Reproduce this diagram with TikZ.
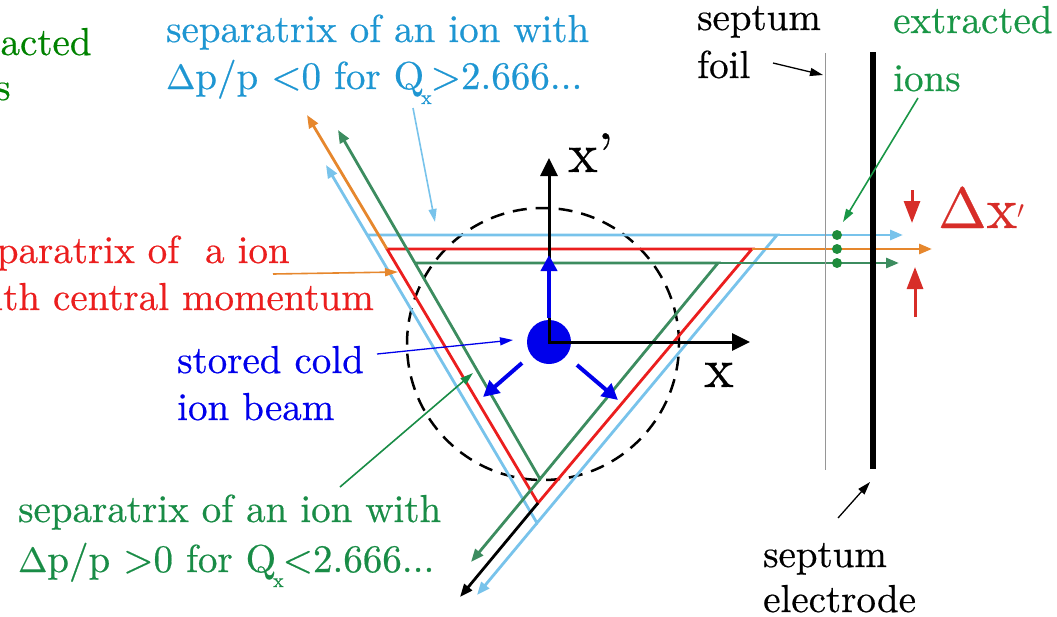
\documentclass[tikz,border=0pt]{standalone}
\usepackage{fontspec}
\setmainfont{lmroman10-regular.otf}[FakeBold=0.5]
\usetikzlibrary{arrows.meta}
\definecolor{lbline}{RGB}{120,195,235}
\definecolor{lbtext}{RGB}{30,150,210}
\definecolor{sepred}{RGB}{235,30,30}
\definecolor{dxred}{RGB}{215,45,40}
\definecolor{sorange}{RGB}{230,135,45}
\definecolor{sgreen}{RGB}{60,140,95}
\definecolor{gtext}{RGB}{25,140,70}
\definecolor{gtextb}{RGB}{25,150,70}
\definecolor{gpure}{RGB}{0,130,0}
\definecolor{sblue}{RGB}{0,0,235}
\definecolor{dotgreen}{RGB}{30,140,60}
\definecolor{foilgray}{RGB}{150,150,150}
\newcommand{\qsubx}{Q\kern-3pt\raisebox{-15pt}{\fontsize{20}{20}\selectfont x}\kern-1pt}
\newcommand{\dlt}{{\fontsize{35}{35}\selectfont Δ}}
\begin{document}
\begin{tikzpicture}[x=1pt,y=-1pt,
  lbl/.style={inner sep=0pt, anchor=base west, font=\fontsize{39}{46}\selectfont},
  axlbl/.style={inner sep=0pt, anchor=base west, font=\fontsize{56}{56}\selectfont},
  sepline/.style={line width=2.8pt, line join=miter},
  armtip/.style={-{Triangle[length=13pt,width=10pt]}},
  armtipstart/.style={{Triangle[length=13pt,width=10pt]}-},
  pointer/.style={line width=1.6pt, -{Triangle[length=13pt,width=8pt]}},
  bluearrow/.style={sblue, line width=4pt, -{Triangle[length=16pt,width=16pt]}},
  dxarrow/.style={dxred, line width=3pt, -{Triangle[length=22pt,width=16pt]}}
]
\useasboundingbox (0,0) rectangle (1057,616);
\clip (0,0) rectangle (1057,616);

% ---------- coordinates ----------
\coordinate (O) at (549,342);
\coordinate (Cc) at (543,344);
% light blue separatrix
\coordinate (L1) at (367,235);
\coordinate (R1) at (777,235);
\coordinate (B1) at (537,523);
\coordinate (LBtop) at (903,235);
\coordinate (LBup) at (326,165);
\coordinate (LBdown) at (477,595);
% red separatrix
\coordinate (L2) at (387,249);
\coordinate (R2) at (752,249);
\coordinate (B2) at (538,503);
\coordinate (ORup) at (307,115);
\coordinate (ORright) at (932,249);
\coordinate (BKdown) at (460,597);
% green separatrix
\coordinate (L3) at (414,263);
\coordinate (R3) at (718,263);
\coordinate (B3) at (540,479);
\coordinate (GRright) at (899,263);
\coordinate (GRup) at (338,130);
\coordinate (GRdown) at (471,562);

% ---------- dashed circle ----------
\draw[line width=2.5pt, dash pattern=on 14pt off 9pt] (Cc) circle (136pt);

% ---------- separatrices ----------
\draw[sepline, lbline, armtipstart] (LBup) -- (B1) -- (R1) -- (L1);
\draw[sepline, lbline, armtip] (R1) -- (LBtop);
\draw[sepline, lbline, armtip] (B1) -- (LBdown);

\draw[sepline, sepred] (L2) -- (R2) -- (B2) -- cycle;
\draw[sepline, sorange, armtip] (L2) -- (ORup);
\draw[sepline, sorange, armtip] (R2) -- (ORright);
\draw[sepline, black, armtip] (B2) -- (BKdown);

\draw[sepline, sgreen, armtipstart] (GRup) -- (B3) -- (R3) -- (L3);
\draw[sepline, sgreen, armtip] (R3) -- (GRright);
\draw[sepline, sgreen, armtip] (B3) -- (GRdown);

% ---------- beam and axes ----------
\fill[sblue] (O) circle (22pt);
\coordinate (Xtip) at (750,342);
\coordinate (XPtip) at (549,158);
\draw[line width=3pt, line join=miter, {Triangle[length=18pt,width=17pt]}-{Triangle[length=18pt,width=17pt]}] (XPtip) -- (O) -- (Xtip);
\coordinate (BUs) at (549,318);
\coordinate (BUe) at (549,255);
\coordinate (BLs) at (522,363);
\coordinate (BLe) at (483,397);
\coordinate (BRs) at (577,365);
\coordinate (BRe) at (618,400);
\draw[bluearrow] (BUs) -- (BUe);
\draw[bluearrow] (BLs) -- (BLe);
\draw[bluearrow] (BRs) -- (BRe);
\node[axlbl] (xplabel) at (568,172) {x’};
\node[axlbl] (xlabel) at (704,387) {x};

% ---------- septum ----------
\coordinate (FoilT) at (825,53);
\coordinate (FoilB) at (825,470);
\coordinate (ElT) at (873,52);
\coordinate (ElB) at (873,469);
\draw[foilgray, line width=1pt] (FoilT) -- (FoilB);
\draw[black, line width=6pt] (ElT) -- (ElB);
\fill[dotgreen] (837,235) circle (5pt) (837,249) circle (5pt) (837,263) circle (5pt);

% ---------- delta x' ----------
\coordinate (DDs) at (912,190);
\coordinate (DDe) at (912,223);
\coordinate (DUs) at (915,317);
\coordinate (DUe) at (915,267);
\draw[dxarrow] (DDs) -- (DDe);
\draw[dxarrow] (DUs) -- (DUe);
\node[inner sep=0pt, anchor=base west, font=\fontsize{58}{58}\selectfont, text=dxred] (dxlabel) at (938,228) {Δx$'$};

% ---------- labels ----------
\node[lbl, text=gpure] (tlA) at (-68,55) {extracted};
\node[lbl, text=gpure] (tlB) at (-57,100) {ions};

\node[lbl, text=lbtext] (topA) at (166,42) {separatrix of an ion with};
\node[lbl, text=lbtext] (topB) at (166,89) {\dlt p/p <0 for \qsubx>2.666...};

\node[lbl] (septA) at (697,30) {septum};
\node[lbl] (septB) at (697,78) {foil};

\node[lbl, text=gtextb] (extA) at (893,33) {extracted};
\node[lbl, text=gtextb] (extB) at (893,91) {ions};

\node[lbl, text=sepred] (redA) at (-36,263) {separatrix of~ a ion};
\node[lbl, text=sepred] (redB) at (-36,310) {with central momentum};

\node[lbl, text=sblue] (blueA) at (177,373) {stored cold};
\node[lbl, text=sblue] (blueB) at (177,420) {ion beam};

\node[lbl, text=gtext] (botA) at (18,522) {separatrix of an ion with};
\node[lbl, text=gtext] (botB) at (18,572) {\dlt p/p >0 for \qsubx<2.666...};

\node[lbl] (eleA) at (763,567) {septum};
\node[lbl] (eleB) at (763,612) {electrode};

% ---------- pointers ----------
\coordinate (PtopS) at (413,108);
\coordinate (PtopE) at (435,222);
\draw[pointer, lbline] (PtopS) -- (PtopE);
\coordinate (PfoilS) at (773,63);
\coordinate (PfoilE) at (823,75);
\draw[pointer, black, line width=1.3pt] (PfoilS) -- (PfoilE);
\coordinate (PextS) at (918,98);
\coordinate (PextE) at (843,222);
\draw[pointer, gtextb] (PextS) -- (PextE);
\coordinate (PredS) at (273,274);
\coordinate (PredE) at (398,272);
\draw[pointer, sorange] (PredS) -- (PredE);
\coordinate (PblueS) at (377,354);
\coordinate (PblueE) at (513,340);
\draw[pointer, sblue, line width=1.3pt] (PblueS) -- (PblueE);
\coordinate (PgrS) at (340,487);
\coordinate (PgrE) at (473,373);
\draw[pointer, gtext] (PgrS) -- (PgrE);
\coordinate (PeleS) at (838,518);
\coordinate (PeleE) at (870,482);
\draw[pointer, black, line width=1.3pt] (PeleS) -- (PeleE);
\end{tikzpicture}
\end{document}
